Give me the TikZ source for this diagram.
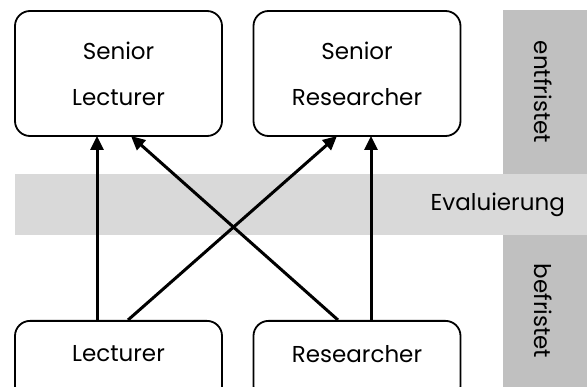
\documentclass[tikz,border=0pt]{standalone}
\usepackage{fontspec}
\setmainfont{Poppins}
\usetikzlibrary{arrows.meta}
\definecolor{bandgray}{HTML}{D9D9D9}
\definecolor{colgray}{HTML}{C0C0C0}
\tikzset{
  rolebox/.style={draw=black, line width=1.8pt, rounded corners=15pt, fill=white, font=\fontsize{23}{46}\selectfont, align=center},
  conn/.style={line width=3pt, -{Triangle[length=14pt,width=13pt]}},
  lbl/.style={font=\fontsize{23}{26}\selectfont, inner sep=0pt}
}
\begin{document}
\begin{tikzpicture}[x=1pt,y=-1pt]
\useasboundingbox (0,0) rectangle (587,387);
\clip (0,0) rectangle (587,387);
% backgrounds
\fill[colgray] (503,10) rectangle (587,174);
\fill[colgray] (503,235) rectangle (587,387);
\fill[bandgray] (15,174) rectangle (587,235);
% boxes
\node[rolebox, minimum width=207pt, minimum height=125pt] (sl) at (118.5,73.5) {Senior\\Lecturer};
\node[rolebox, minimum width=207pt, minimum height=125pt] (sr) at (357,73.5) {Senior\\Researcher};
\node[rolebox, minimum width=207pt, minimum height=80pt, anchor=north] (le) at (118.5,320) {};
\node[rolebox, minimum width=207pt, minimum height=80pt, anchor=north] (re) at (357,320) {};
\node[font=\fontsize{23}{26}\selectfont] (let) at (118.5,354) {Lecturer};
\node[font=\fontsize{23}{26}\selectfont] (ret) at (357,354) {Researcher};
% labels
\node[lbl, anchor=east] (ev) at (565,205) {Evaluierung};
\node[lbl, rotate=-90] (en) at (543,92) {entfristet};
\node[lbl, rotate=-90] (be) at (543,311) {befristet};
% connectors
\coordinate (a1) at (97,320); \coordinate (b1) at (97,136);
\coordinate (a2) at (128,320); \coordinate (b2) at (337,136);
\coordinate (a3) at (338,320); \coordinate (b3) at (131,136);
\coordinate (a4) at (371,320); \coordinate (b4) at (371,136);
\draw[conn] (a1) -- (b1);
\draw[conn] (a2) -- (b2);
\draw[conn] (a3) -- (b3);
\draw[conn] (a4) -- (b4);
\end{tikzpicture}
\end{document}
